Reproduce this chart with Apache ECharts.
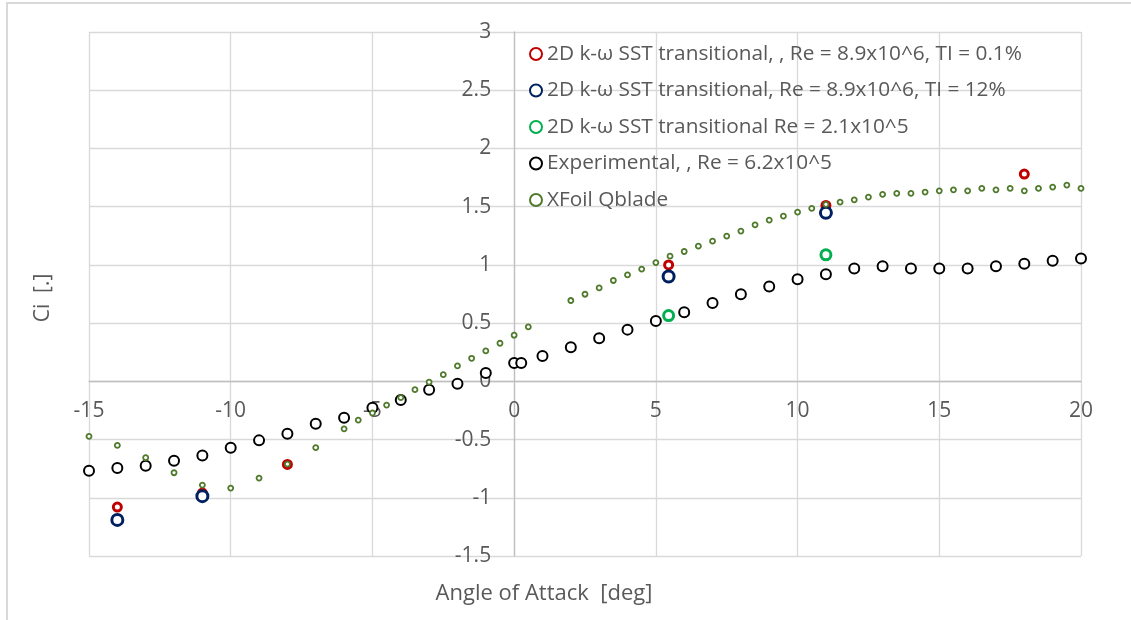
<!DOCTYPE html>
<html>
<head>
<meta charset="utf-8">
<script src="https://cdn.jsdelivr.net/npm/echarts@6/dist/echarts.min.js"></script>
<style>
html,body{margin:0;padding:0;background:#fff;}
#chart{width:1131px;height:620px;}
</style>
</head>
<body>
<div id="chart"></div>
<script>
var seriesNames = [
  "2D k-\u03c9 SST transitional, , Re = 8.9x10^6, TI = 0.1%",
  "2D k-\u03c9 SST transitional, Re = 8.9x10^6, TI = 12%",
  "2D k-\u03c9 SST transitional Re = 2.1x10^5",
  "Experimental, , Re = 6.2x10^5",
  "XFoil Qblade"
];
var xTitle = "Angle of Attack  [deg]";
var yTitle = "Ci  [.]";

var redX = [-14, -11, -8, 5.45, 11, 18];
var redY = [-1.08, -0.96, -0.714, 1.0, 1.51, 1.78];

var blueX = [-14, -11, 5.45, 11];
var blueY = [-1.19, -0.986, 0.90, 1.447];

var greenX = [5.45, 11];
var greenY = [0.565, 1.086];

var expX = [-15,-14,-13,-12,-11,-10,-9,-8,-7,-6,-5,-4,-3,-2,-1,0,0.25,1,2,3,4,5,6,7,8,9,10,11,12,13,14,15,16,17,18,19,20];
var expY = [-0.768,-0.745,-0.725,-0.682,-0.636,-0.571,-0.507,-0.45,-0.364,-0.312,-0.226,-0.16,-0.072,-0.02,0.072,0.158,0.158,0.218,0.292,0.37,0.444,0.519,0.593,0.673,0.748,0.814,0.877,0.92,0.969,0.989,0.969,0.969,0.969,0.989,1.009,1.035,1.055];

var xfoilX = [-15,-14,-13,-12,-11,-10,-9,-8,-7,-6,-5.5,-5,-4.5,-4,-3.5,-3,-2.5,-2,-1.5,-1,-0.5,0,0.5,
  2,2.5,3,3.5,4,4.5,5,5.5,6,6.5,7,7.5,8,8.5,9,9.5,10,10.5,11,11.5,12,12.5,13,13.5,14,14.5,15,15.5,16,16.5,17,17.5,18,18.5,19,19.5,20];
var xfoilY = [-0.473,-0.55,-0.656,-0.785,-0.891,-0.917,-0.831,-0.711,-0.57,-0.408,-0.333,-0.272,-0.204,-0.14,-0.072,-0.006,0.057,0.132,0.198,0.261,0.327,0.396,0.467,
  0.694,0.748,0.802,0.866,0.914,0.963,1.02,1.075,1.115,1.161,1.204,1.247,1.29,1.344,1.384,1.419,1.453,1.485,1.519,1.539,1.559,1.582,1.605,1.614,1.614,1.625,1.636,1.645,1.636,1.657,1.645,1.657,1.636,1.657,1.668,1.685,1.657];

var xMin = -15, xMax = 20, yMin = -1.5, yMax = 3;

function pairs(xs, ys){ return xs.map(function(x,i){ return [x, ys[i]]; }); }

var FONT = "Open Sans";
var TXT = "#595959";
var G = {left: 89, right: 50, top: 32, bottom: 64};
var W = 1131, H = 620;
var gw = W - G.left - G.right, gh = H - G.top - G.bottom;
// shift the axes so they cross at zero, like the reference
var xOffset = -gh * (0 - yMin) / (yMax - yMin);
var yOffset = -gw * (0 - xMin) / (xMax - xMin);

var chart = echarts.init(document.getElementById('chart'), null, {renderer:'canvas'});

function sc(name, xs, ys, color, size, bw){
  return {
    name: name, type: 'scatter', data: pairs(xs, ys),
    symbol: 'circle', symbolSize: size,
    itemStyle: {color: '#ffffff', borderColor: color, borderWidth: bw, opacity: 1},
    emphasis: {disabled: true}, animation: false
  };
}

chart.setOption({
  animation: false,
  backgroundColor: '#ffffff',
  textStyle: {fontFamily: FONT},
  grid: {left: G.left, right: G.right, top: G.top, bottom: G.bottom, containLabel: false},
  xAxis: {
    type: 'value', min: xMin, max: xMax, interval: 5, position: 'bottom', offset: xOffset,
    axisLine: {onZero: false, lineStyle: {color: '#bfbfbf', width: 1.3}},
    axisTick: {show: false},
    axisLabel: {color: TXT, fontSize: 21, fontFamily: FONT, margin: 19},
    splitLine: {show: true, lineStyle: {color: '#d9d9d9', width: 1.3}}
  },
  yAxis: {
    type: 'value', min: yMin, max: yMax, interval: 0.5, position: 'left', offset: yOffset,
    axisLine: {onZero: false, lineStyle: {color: '#bfbfbf', width: 1.3}},
    axisTick: {show: false},
    axisLabel: {color: TXT, fontSize: 21, fontFamily: FONT, margin: 23},
    splitLine: {show: true, lineStyle: {color: '#d9d9d9', width: 1.3}}
  },
  legend: {
    orient: 'vertical', left: 529, top: 42, padding: 0,
    itemWidth: 12, itemHeight: 12, itemGap: 12.5,
    textStyle: {color: TXT, fontSize: 20.8, fontFamily: FONT, lineHeight: 24},
    data: seriesNames
  },
  graphic: [
    {type: 'rect', silent: true, z: -1, shape: {x: 7, y: 3, width: 1200, height: 700},
     style: {fill: 'none', stroke: '#d9d9d9', lineWidth: 2}},
    {type: 'text', silent: true, x: 544, y: 594,
     style: {text: xTitle, fill: TXT, font: '22px "' + FONT + '"', textAlign: 'center', textVerticalAlign: 'middle'}},
    {type: 'text', silent: true, rotation: Math.PI/2, x: 43, y: 298,
     style: {text: yTitle, fill: TXT, font: '21px "' + FONT + '"', textAlign: 'center', textVerticalAlign: 'middle'}}
  ],
  series: [
    sc(seriesNames[0], redX, redY, '#c00000', 8, 3),
    sc(seriesNames[1], blueX, blueY, '#002060', 11, 3),
    sc(seriesNames[2], greenX, greenY, '#00b050', 10, 3),
    sc(seriesNames[3], expX, expY, '#000000', 10, 2),
    sc(seriesNames[4], xfoilX, xfoilY, '#4f7a2c', 5, 1.8)
  ]
});
</script>
</body>
</html>
